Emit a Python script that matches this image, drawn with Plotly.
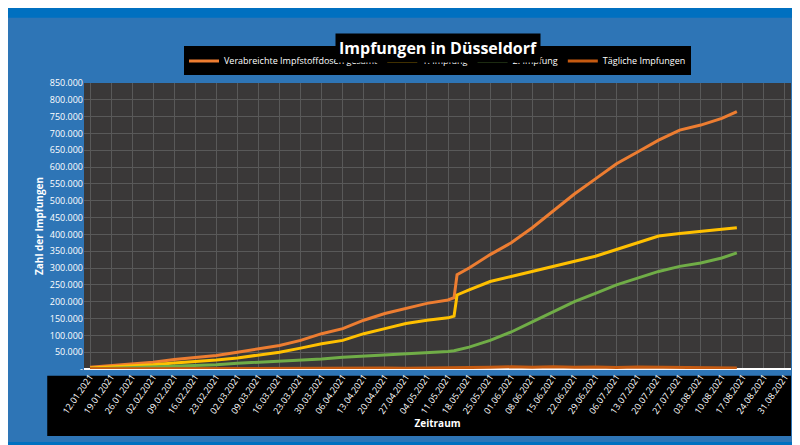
import plotly.graph_objects as go

dates = ["2021-01-12", "2021-01-19", "2021-01-26", "2021-02-02", "2021-02-09", "2021-02-16",
         "2021-02-23", "2021-03-02", "2021-03-09", "2021-03-16", "2021-03-23", "2021-03-30",
         "2021-04-06", "2021-04-13", "2021-04-20", "2021-04-27", "2021-05-04", "2021-05-11",
         "2021-05-13", "2021-05-14", "2021-05-18", "2021-05-25", "2021-06-01", "2021-06-08",
         "2021-06-15", "2021-06-22", "2021-06-29", "2021-07-06", "2021-07-13", "2021-07-20",
         "2021-07-27", "2021-08-03", "2021-08-10", "2021-08-15"]
gesamt = [5000, 10000, 15000, 20000, 28000, 35000, 40000, 50000, 60000, 70000, 85000, 105000,
          120000, 145000, 165000, 180000, 195000, 205000, 212000, 280000, 300000, 340000, 375000,
          420000, 470000, 520000, 565000, 610000, 645000, 680000, 710000, 725000, 745000, 765000]
erste = [3000, 6000, 10000, 13000, 18000, 22000, 27000, 33000, 42000, 50000, 62000, 75000,
         85000, 105000, 120000, 135000, 145000, 152000, 157000, 220000, 235000, 260000, 275000,
         290000, 305000, 320000, 335000, 355000, 375000, 395000, 403000, 408000, 415000, 420000]
zweite = [0, 2000, 4000, 6000, 9000, 12000, 13000, 17000, 20000, 22000, 26000, 30000,
          35000, 38000, 42000, 45000, 48000, 52000, 54000, 56000, 65000, 85000, 110000,
          140000, 170000, 200000, 225000, 250000, 270000, 290000, 305000, 315000, 330000, 345000]
taeglich = [500, 800, 900, 1000, 1200, 1000, 900, 1200, 1300, 1200, 1500, 2000,
            2200, 2500, 2800, 2600, 3000, 3200, 2800, 4000, 3500, 5000, 6500,
            5500, 7000, 5000, 6000, 4500, 6000, 5000, 4000, 4500, 3500, 3000]

y_ticks = [0, 50000, 100000, 150000, 200000, 250000, 300000, 350000, 400000, 450000, 500000,
           550000, 600000, 650000, 700000, 750000, 800000, 850000]
y_labels = ["-"] + [f"{v:,}".replace(",", ".") for v in y_ticks[1:]]

fig = go.Figure()
series = [
    ("Verabreichte Impfstoffdosen gesamt", gesamt, "#ed7d31"),
    ("1. Impfung", erste, "#ffc000"),
    ("2. Impfung", zweite, "#70ad47"),
    ("Tägliche Impfungen", taeglich, "#c55a11"),
]
for name, vals, col in series:
    fig.add_trace(go.Scatter(x=dates, y=vals, name=name, mode="lines",
                             line=dict(color=col, width=3)))

# black band behind the date labels, dark strips top and bottom
fig.add_shape(type="rect", xref="paper", yref="paper", x0=-0.052, x1=1.0, y0=-0.024, y1=-0.234,
              fillcolor="black", line=dict(width=0), layer="below")
fig.add_shape(type="rect", xref="paper", yref="paper", x0=-0.2, x1=1.1, y0=1.228, y1=1.4,
              fillcolor="#0070c0", line=dict(width=0))
fig.add_shape(type="rect", xref="paper", yref="paper", x0=-0.2, x1=1.1, y0=-0.255, y1=-0.4,
              fillcolor="#0070c0", line=dict(width=0), layer="below")

fig.add_annotation(text="<b>Impfungen in Düsseldorf</b>", xref="paper", yref="paper",
                   x=0.5, y=1.175, showarrow=False, bgcolor="black", borderpad=3,
                   font=dict(size=16, color="white"))

fig.update_layout(
    width=800, height=445,
    paper_bgcolor="#2e75b6", plot_bgcolor="#3a3838",
    font=dict(family="Open Sans", color="white", size=9),
    margin=dict(l=76, r=17, t=75, b=84, autoexpand=False),
    legend=dict(orientation="h", x=0.5, xanchor="center", y=1.077, yanchor="middle",
                bgcolor="black", font=dict(size=9)),
    xaxis=dict(type="date", range=["2021-01-10", "2021-09-02"], tick0="2021-01-12",
               dtick=7 * 86400000, tickformat="%d.%m.%Y", tickangle=-55,
               showgrid=True, gridcolor="#595959", tickfont=dict(size=9),
               title=dict(text="<b>Zeitraum</b>", font=dict(size=10), standoff=4)),
    yaxis=dict(range=[0, 850000], tickvals=y_ticks, ticktext=y_labels,
               showgrid=True, gridcolor="#595959", tickfont=dict(size=9),
               title=dict(text="<b>Zahl der Impfungen</b>", font=dict(size=10), standoff=4)),
)

fig.write_html("out.html")
